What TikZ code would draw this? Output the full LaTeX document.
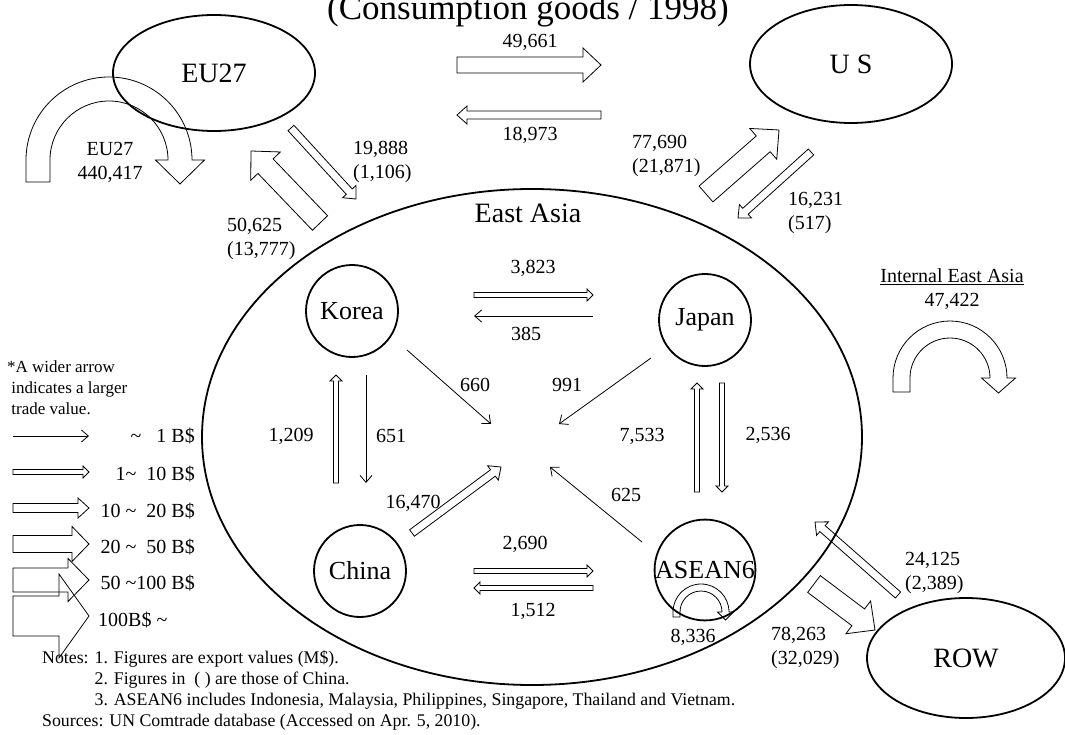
\documentclass[tikz,border=0pt]{standalone}
\usepackage{fontspec}
\setmainfont{Liberation Serif}
\usetikzlibrary{positioning,arrows.meta,shapes.geometric,calc}

% block arrow: shaft half width, head half width, head length, tail, tip
\newcommand{\blkarrow}[5]{%
  \coordinate (bk) at ($(#5)!#3pt!(#4)$);
  \draw[blk] ($(#4)!#1pt!90:(#5)$) -- ($(bk)!#1pt!90:(#5)$) -- ($(bk)!#2pt!90:(#5)$) -- (#5)
    -- ($(bk)!#2pt!-90:(#5)$) -- ($(bk)!#1pt!-90:(#5)$) -- ($(#4)!#1pt!-90:(#5)$) -- cycle;}

% curved block arrow: cx, cy, outer r, inner r, tail, head half width, head length
\newcommand{\looparrow}[7]{%
  \pgfmathsetmacro{\lm}{(#3+#4)/2}
  \draw[blk] (#1-#3,#2-#5) -- (#1-#3,#2) arc[start angle=180, end angle=0, radius=#3]
    -- (#1+\lm+#6,#2) -- (#1+\lm,#2-#7) -- (#1+\lm-#6,#2) -- (#1+#4,#2)
    arc[start angle=0, end angle=180, radius=#4] -- (#1-#4,#2-#5) -- cycle;}

\begin{document}
\begin{tikzpicture}[x=1pt, y=1pt,
    reg/.style={draw, ellipse, line width=1.8pt, inner sep=0pt, font=\fontsize{28}{30}\selectfont},
    ctry/.style={draw, circle, line width=1.8pt, minimum size=92pt, inner sep=0pt, font=\fontsize{26}{28}\selectfont},
    num/.style={font=\fontsize{20}{24}\selectfont, align=left, inner sep=0pt},
    blk/.style={draw, line width=0.8pt, line join=miter},
    lnarr/.style={-{Straight Barb[length=7pt, width=12pt]}, line width=0.8pt},
    note/.style={font=\fontsize{17.8}{21}\selectfont, align=left, inner sep=0pt, anchor=north west},
]
\useasboundingbox (0,0) rectangle (1065,-735);

% --- Title ---
\node[font=\fontsize{35}{38}\selectfont, anchor=base, inner sep=0pt] (title) at (528,-20) {(Consumption goods / 1998)};

% --- Regions ---
\node[reg, minimum width=202pt, minimum height=116pt] (eu) at (214,-73) {EU27};
\node[reg, minimum width=202pt, minimum height=118pt] (us) at (851,-64) {U S};
\node[reg, minimum width=198pt, minimum height=120pt] (row) at (966,-658) {ROW};
\node[draw, ellipse, line width=1.8pt, minimum width=660pt, minimum height=496pt] (ea) at (532,-437) {};
\node[font=\fontsize{28}{30}\selectfont] (ealbl) at (528,-213) {East Asia};

% --- East Asian countries ---
\node[ctry] (kor) at (352,-311) {Korea};
\node[ctry] (jpn) at (705,-320) {Japan};
\node[ctry] (chn) at (360,-571) {China};
\node[ctry] (asn) at (705,-570) {ASEAN6};

% --- Arrow ends ---
\coordinate (eu2us-s) at (457,-65);   \coordinate (eu2us-e) at (601,-65);
\coordinate (us2eu-s) at (601,-115);  \coordinate (us2eu-e) at (457,-115);
\coordinate (eu2ea-s) at (291,-128);  \coordinate (eu2ea-e) at (356,-199);
\coordinate (ea2eu-s) at (320,-223);  \coordinate (ea2eu-e) at (251,-151);
\coordinate (ea2us-s) at (706,-194);  \coordinate (ea2us-e) at (779,-130);
\coordinate (us2ea-s) at (811,-152);  \coordinate (us2ea-e) at (738,-218);
\coordinate (ea2rw-s) at (814,-584);  \coordinate (ea2rw-e) at (875,-630);
\coordinate (rw2ea-s) at (898,-595);  \coordinate (rw2ea-e) at (815,-522);
\coordinate (k2j-s) at (474,-295);    \coordinate (k2j-e) at (593,-295);
\coordinate (j2k-s) at (593,-316);    \coordinate (j2k-e) at (474,-316);
\coordinate (k2m-s) at (407,-350);    \coordinate (k2m-e) at (491,-424);
\coordinate (j2m-s) at (651,-358);    \coordinate (j2m-e) at (559,-424);
\coordinate (c2k-s) at (336,-483);    \coordinate (c2k-e) at (336,-375);
\coordinate (k2c-s) at (366,-375);    \coordinate (k2c-e) at (366,-483);
\coordinate (a2j-s) at (697,-492);    \coordinate (a2j-e) at (697,-383);
\coordinate (j2a-s) at (722,-383);    \coordinate (j2a-e) at (722,-492);
\coordinate (c2m-s) at (412,-533);    \coordinate (c2m-e) at (501,-467);
\coordinate (a2m-s) at (642,-542);    \coordinate (a2m-e) at (550,-467);
\coordinate (c2a-s) at (474,-571);    \coordinate (c2a-e) at (593,-571);
\coordinate (a2c-s) at (593,-588);    \coordinate (a2c-e) at (474,-588);

% --- Trade arrows ---
\blkarrow{8}{17}{18}{eu2us-s}{eu2us-e}
\blkarrow{4}{9}{10}{us2eu-s}{us2eu-e}
\blkarrow{4}{9}{10}{eu2ea-s}{eu2ea-e}
\blkarrow{10.5}{20.5}{21}{ea2eu-s}{ea2eu-e}
\blkarrow{10.5}{20.5}{21}{ea2us-s}{ea2us-e}
\blkarrow{4}{9}{10}{us2ea-s}{us2ea-e}
\blkarrow{10.5}{20.5}{21}{ea2rw-s}{ea2rw-e}
\blkarrow{4}{9}{10}{rw2ea-s}{rw2ea-e}
\blkarrow{2.5}{6}{6}{k2j-s}{k2j-e}
\draw[lnarr] (j2k-s) -- (j2k-e);
\draw[lnarr] (k2m-s) -- (k2m-e);
\draw[lnarr] (j2m-s) -- (j2m-e);
\blkarrow{2.5}{6}{6}{c2k-s}{c2k-e}
\draw[lnarr] (k2c-s) -- (k2c-e);
\blkarrow{2.5}{6}{6}{a2j-s}{a2j-e}
\blkarrow{2.5}{6}{6}{j2a-s}{j2a-e}
\blkarrow{4}{9}{10}{c2m-s}{c2m-e}
\draw[lnarr] (a2m-s) -- (a2m-e);
\blkarrow{2.5}{6}{6}{c2a-s}{c2a-e}
\blkarrow{2.5}{6}{6}{a2c-s}{a2c-e}

% --- Internal trade loops ---
\looparrow{109}{-160}{83}{59}{22}{24.5}{24}
\looparrow{950}{-378}{57}{40}{14}{17}{15}
\looparrow{701}{-612}{28}{21}{5}{8}{8}

% --- Values ---
\node[num] (v1) at (530,-42) {49,661};
\node[num] (v2) at (530,-135) {18,973};
\node[num, anchor=west] (v3) at (353,-162) {19,888\\(1,106)};
\node[num, anchor=west] (v4) at (227,-239) {50,625\\(13,777)};
\node[num, anchor=west] (v5) at (632,-156) {77,690\\(21,871)};
\node[num, anchor=west] (v6) at (788,-213) {16,231\\(517)};
\node[num, anchor=west] (v7) at (771,-648) {78,263\\(32,029)};
\node[num, anchor=west] (v8) at (905,-573) {24,125\\(2,389)};
\node[num, align=center] (v9) at (110,-162) {EU27\\440,417};
\node[num, align=center] (v10) at (952,-289) {\underline{Internal East Asia}\\47,422};
\node[num] at (533,-268) {3,823};
\node[num] at (526,-334) {385};
\node[num] at (475,-385) {660};
\node[num] at (567,-385) {991};
\node[num] at (291,-436) {1,209};
\node[num] at (391,-436) {651};
\node[num] at (642,-436) {7,533};
\node[num] at (768,-435) {2,536};
\node[num] at (413,-503) {16,470};
\node[num] at (626,-495) {625};
\node[num] at (525,-544) {2,690};
\node[num] at (533,-611) {1,512};
\node[num] at (693,-637) {8,336};

% --- Legend ---
\node[note, font=\fontsize{17}{21}\selectfont] (leg) at (7,-361) {*A wider arrow\\ \ indicates a larger\\ \ trade value.};
\coordinate (l1-s) at (13,-436);  \coordinate (l1-e) at (89,-436);
\coordinate (l2-s) at (13,-472);  \coordinate (l2-e) at (89,-472);
\coordinate (l3-s) at (13,-508);  \coordinate (l3-e) at (89,-508);
\coordinate (l4-s) at (13,-544);  \coordinate (l4-e) at (89,-544);
\coordinate (l5-s) at (13,-580);  \coordinate (l5-e) at (89,-580);
\coordinate (l6-s) at (13,-616);  \coordinate (l6-e) at (89,-616);
\draw[lnarr] (l1-s) -- (l1-e);
\blkarrow{2.5}{6}{6}{l2-s}{l2-e}
\blkarrow{4.5}{10}{11}{l3-s}{l3-e}
\blkarrow{8.5}{17.5}{17}{l4-s}{l4-e}
\blkarrow{12}{21.5}{21}{l5-s}{l5-e}
\blkarrow{20}{42}{30}{l6-s}{l6-e}
\node[num, anchor=east] at (195,-436) {\textasciitilde\ \ \ 1 B\$};
\node[num, anchor=east] at (195,-474) {1\textasciitilde\ \ 10 B\$};
\node[num, anchor=east] at (195,-511) {10 \textasciitilde\ \ 20 B\$};
\node[num, anchor=east] at (195,-547) {20 \textasciitilde\ \ 50 B\$};
\node[num, anchor=east] at (195,-583) {50 \textasciitilde100 B\$};
\node[num, anchor=west] at (98,-620) {100B\$ \textasciitilde};

% --- Notes ---
\node[note] (notes) at (42,-650) {Notes: 1. Figures are export values (M\$).\\
\phantom{Notes: }2. Figures in\ \ ( ) are those of China.\\
\phantom{Notes: }3. ASEAN6 includes Indonesia, Malaysia, Philippines, Singapore, Thailand and Vietnam.\\
Sources: UN Comtrade database (Accessed on Apr. 5, 2010).};

\end{tikzpicture}
\end{document}
